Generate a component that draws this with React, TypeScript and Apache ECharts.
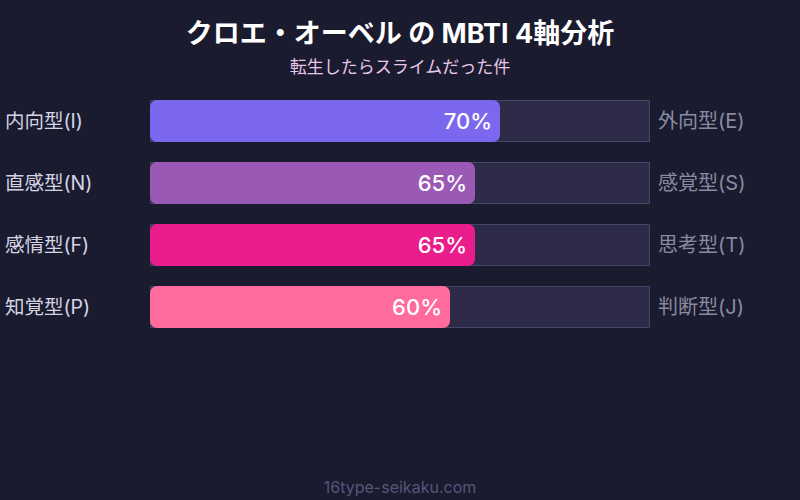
import React, { useEffect, useRef } from "react";
import * as echarts from "echarts";

const leftLabels = ["内向型(I)", "直感型(N)", "感情型(F)", "知覚型(P)"];
const rightLabels = ["外向型(E)", "感覚型(S)", "思考型(T)", "判断型(J)"];
const values = [70, 65, 65, 60];
const barColors = ["#7b68ee", "#9b59b6", "#e91e8c", "#ff6b9d"];
const fullValues = [100, 100, 100, 100];

const FONT = "Inter, 'Noto Sans CJK JP', sans-serif";

export default function App() {
  const ref = useRef<HTMLDivElement>(null);
  useEffect(() => {
    if (!ref.current) return;
    const chart = echarts.init(ref.current, null, { renderer: "svg" });
    chart.setOption({
      animation: false,
      backgroundColor: "#1a1b2e",
      title: [
        {
          text: "クロエ・オーベル の MBTI 4軸分析",
          left: "center",
          top: 15,
          textStyle: { color: "#ffffff", fontSize: 27, fontWeight: "bold", fontFamily: FONT },
        },
        {
          text: "転生したらスライムだった件",
          left: "center",
          top: 53,
          textStyle: { color: "#e6c6ea", fontSize: 17, fontWeight: "normal", fontFamily: FONT },
        },
        {
          text: "16type-seikaku.com",
          left: "center",
          top: 474,
          textStyle: { color: "#55577a", fontSize: 16, fontWeight: "normal", fontFamily: FONT },
        },
      ],
      grid: { left: 150, right: 150, top: 90, height: 248 },
      xAxis: { type: "value", min: 0, max: 100, show: false },
      yAxis: [
        {
          type: "category",
          data: leftLabels,
          inverse: true,
          axisLine: { show: false },
          axisTick: { show: false },
          axisLabel: {
            color: "#d4d4e4",
            fontSize: 19.5,
            fontFamily: FONT,
            align: "left",
            margin: 145,
            padding: [0, 0, 3, 0],
          },
        },
        {
          type: "category",
          data: rightLabels,
          inverse: true,
          position: "right",
          axisLine: { show: false },
          axisTick: { show: false },
          axisLabel: {
            color: "#8a8aa2",
            fontSize: 20,
            fontFamily: FONT,
            margin: 8,
            padding: [0, 0, 3, 0],
          },
        },
      ],
      series: [
        {
          type: "bar",
          data: fullValues,
          barWidth: 42,
          barGap: "-100%",
          silent: true,
          itemStyle: { color: "#2d2b47", borderColor: "#46466a", borderWidth: 1 },
          z: 1,
        },
        {
          type: "bar",
          data: values.map((v, i) => ({ value: v, itemStyle: { color: barColors[i] } })),
          barWidth: 42,
          itemStyle: { borderRadius: 7 },
          label: {
            show: true,
            position: "insideRight",
            formatter: "{c}%",
            color: "#ffffff",
            fontSize: 22,
            fontWeight: 500,
            fontFamily: FONT,
            distance: 8,
          },
          z: 2,
        },
      ],
    });
    return () => chart.dispose();
  }, []);
  return <div ref={ref} style={{ width: 800, height: 500, position: "absolute", left: 0, top: 0 }} />;
}
